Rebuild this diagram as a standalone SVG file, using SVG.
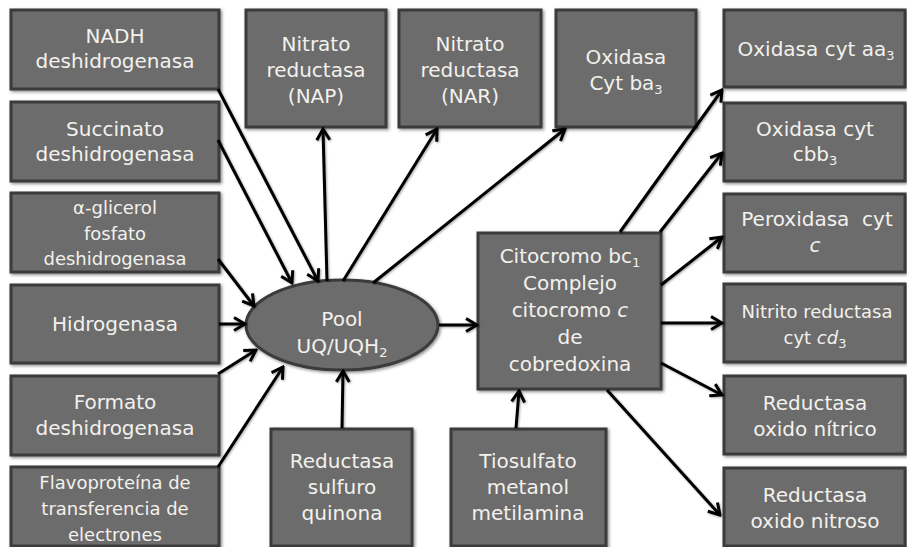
<svg xmlns="http://www.w3.org/2000/svg" width="907" height="547" viewBox="0 0 907 547">
  <defs>
    <style>
      .box { fill: #6c6c6c; stroke: #3a3a3a; stroke-width: 3; filter: url(#shadow); }
      .lbl { font-family: "DejaVu Sans", "Liberation Sans", sans-serif; font-size: 20px; fill: #f3f1ec; text-anchor: middle; white-space: pre; }
      .sm { font-size: 18px; }
      .sub { font-size: 13px; }
      .it { font-style: italic; }
      .arrow { fill: none; stroke: #000; stroke-width: 3; marker-end: url(#head); filter: url(#lineshadow); }
    </style>
    <filter id="shadow" x="-10%" y="-10%" width="120%" height="120%">
      <feDropShadow dx="1.5" dy="1.5" stdDeviation="1.5" flood-color="#000" flood-opacity="0.45"/>
    </filter>
    <filter id="lineshadow" filterUnits="userSpaceOnUse" x="0" y="0" width="907" height="547">
      <feDropShadow dx="1" dy="1" stdDeviation="1.2" flood-color="#000" flood-opacity="0.35"/>
    </filter>
    <marker id="head" markerUnits="userSpaceOnUse" viewBox="0 0 16 16" markerWidth="16" markerHeight="16" refX="14" refY="8" orient="auto">
      <path d="M3,1.5 L14,8 L3,14.5" fill="none" stroke="#000" stroke-width="3" stroke-linejoin="miter"/>
    </marker>
  </defs>

  <rect width="907" height="547" fill="#fff"/>

  <!-- left column -->
  <g id="nadh">
    <rect class="box" x="11" y="10" width="208" height="79"/>
    <text class="lbl" x="115" y="43">NADH</text>
    <text class="lbl" x="115" y="68">deshidrogenasa</text>
  </g>
  <g id="succinato">
    <rect class="box" x="11" y="102" width="208" height="79"/>
    <text class="lbl" x="115" y="136">Succinato</text>
    <text class="lbl" x="115" y="161">deshidrogenasa</text>
  </g>
  <g id="glicerol">
    <rect class="box" x="11" y="193" width="208" height="79"/>
    <text class="lbl sm" x="115" y="214">α-glicerol</text>
    <text class="lbl sm" x="115" y="240">fosfato</text>
    <text class="lbl sm" x="115" y="265">deshidrogenasa</text>
  </g>
  <g id="hidrogenasa">
    <rect class="box" x="11" y="285" width="208" height="78"/>
    <text class="lbl" x="115" y="331">Hidrogenasa</text>
  </g>
  <g id="formato">
    <rect class="box" x="11" y="376" width="208" height="79"/>
    <text class="lbl" x="115" y="409">Formato</text>
    <text class="lbl" x="115" y="435">deshidrogenasa</text>
  </g>
  <g id="flavoproteina">
    <rect class="box" x="11" y="467" width="208" height="79"/>
    <text class="lbl sm" x="115" y="489">Flavoproteína de</text>
    <text class="lbl sm" x="115" y="515">transferencia de</text>
    <text class="lbl sm" x="115" y="541">electrones</text>
  </g>

  <!-- top row -->
  <g id="nap">
    <rect class="box" x="246" y="10" width="140" height="117"/>
    <text class="lbl" x="316" y="51">Nitrato</text>
    <text class="lbl" x="316" y="77">reductasa</text>
    <text class="lbl" x="316" y="103">(NAP)</text>
  </g>
  <g id="nar">
    <rect class="box" x="399" y="10" width="142" height="117"/>
    <text class="lbl" x="470" y="51">Nitrato</text>
    <text class="lbl" x="470" y="77">reductasa</text>
    <text class="lbl" x="470" y="103">(NAR)</text>
  </g>
  <g id="ba3">
    <rect class="box" x="556" y="10" width="140" height="117"/>
    <text class="lbl" x="626" y="64">Oxidasa</text>
    <text class="lbl" x="626" y="90">Cyt ba<tspan class="sub" dy="4">3</tspan></text>
  </g>

  <!-- pool -->
  <g id="pool">
    <ellipse class="box" cx="342" cy="325" rx="96" ry="45"/>
    <text class="lbl" x="342" y="326">Pool</text>
    <text class="lbl" x="342" y="353">UQ/UQH<tspan class="sub" dy="4">2</tspan></text>
  </g>

  <!-- cytochrome complex -->
  <g id="bc1">
    <rect class="box" x="478" y="233" width="183" height="156"/>
    <text class="lbl" x="570" y="263">Citocromo bc<tspan class="sub" dy="4">1</tspan></text>
    <text class="lbl" x="570" y="290">Complejo</text>
    <text class="lbl" x="570" y="317">citocromo <tspan class="it">c</tspan></text>
    <text class="lbl" x="570" y="344">de</text>
    <text class="lbl" x="570" y="371">cobredoxina</text>
  </g>

  <!-- bottom row -->
  <g id="sulfuro">
    <rect class="box" x="271" y="429" width="141" height="117"/>
    <text class="lbl" x="342" y="468">Reductasa</text>
    <text class="lbl" x="342" y="494">sulfuro</text>
    <text class="lbl" x="342" y="520">quinona</text>
  </g>
  <g id="tiosulfato">
    <rect class="box" x="451" y="429" width="155" height="117"/>
    <text class="lbl" x="528" y="468">Tiosulfato</text>
    <text class="lbl" x="528" y="494">metanol</text>
    <text class="lbl" x="528" y="520">metilamina</text>
  </g>

  <!-- right column -->
  <g id="aa3">
    <rect class="box" x="724" y="10" width="181" height="77"/>
    <text class="lbl" x="816" y="56">Oxidasa cyt aa<tspan class="sub" dy="4">3</tspan></text>
  </g>
  <g id="cbb3">
    <rect class="box" x="724" y="103" width="181" height="78"/>
    <text class="lbl" x="815" y="136">Oxidasa cyt</text>
    <text class="lbl" x="815" y="161">cbb<tspan class="sub" dy="4">3</tspan></text>
  </g>
  <g id="peroxidasa">
    <rect class="box" x="724" y="194" width="181" height="78"/>
    <text class="lbl" x="817" y="226">Peroxidasa  cyt</text>
    <text class="lbl it" x="815" y="252">c</text>
  </g>
  <g id="nitrito">
    <rect class="box" x="724" y="284" width="181" height="78"/>
    <text class="lbl sm" x="817" y="318">Nitrito reductasa</text>
    <text class="lbl sm" x="815" y="344">cyt <tspan class="it">cd</tspan><tspan class="sub" dy="4">3</tspan></text>
  </g>
  <g id="nitrico">
    <rect class="box" x="724" y="376" width="181" height="78"/>
    <text class="lbl" x="815" y="410">Reductasa</text>
    <text class="lbl" x="815" y="436">oxido nítrico</text>
  </g>
  <g id="nitroso">
    <rect class="box" x="724" y="468" width="181" height="78"/>
    <text class="lbl" x="815" y="502">Reductasa</text>
    <text class="lbl" x="815" y="528">oxido nitroso</text>
  </g>

  <!-- arrows, drawn over the node edges -->
  <g id="connectors">
    <line class="arrow" x1="218" y1="89" x2="318" y2="281"/>
    <line class="arrow" x1="218" y1="140" x2="292" y2="283"/>
    <line class="arrow" x1="218" y1="259" x2="254" y2="306"/>
    <line class="arrow" x1="219" y1="324" x2="245" y2="324"/>
    <line class="arrow" x1="218" y1="374" x2="256" y2="350"/>
    <line class="arrow" x1="218" y1="467" x2="283" y2="367"/>
    <line class="arrow" x1="327" y1="281" x2="323" y2="129"/>
    <line class="arrow" x1="343" y1="281" x2="437" y2="129"/>
    <line class="arrow" x1="373" y1="283" x2="565" y2="129"/>
    <line class="arrow" x1="439" y1="325" x2="477" y2="325"/>
    <line class="arrow" x1="342" y1="428" x2="343" y2="371"/>
    <line class="arrow" x1="516" y1="428" x2="519" y2="391"/>
    <line class="arrow" x1="620" y1="232" x2="722" y2="90"/>
    <line class="arrow" x1="660" y1="232" x2="722" y2="153"/>
    <line class="arrow" x1="661" y1="285" x2="722" y2="237"/>
    <line class="arrow" x1="661" y1="323" x2="722" y2="323"/>
    <line class="arrow" x1="661" y1="363" x2="722" y2="395"/>
    <line class="arrow" x1="607" y1="390" x2="720" y2="515"/>
  </g>
</svg>
